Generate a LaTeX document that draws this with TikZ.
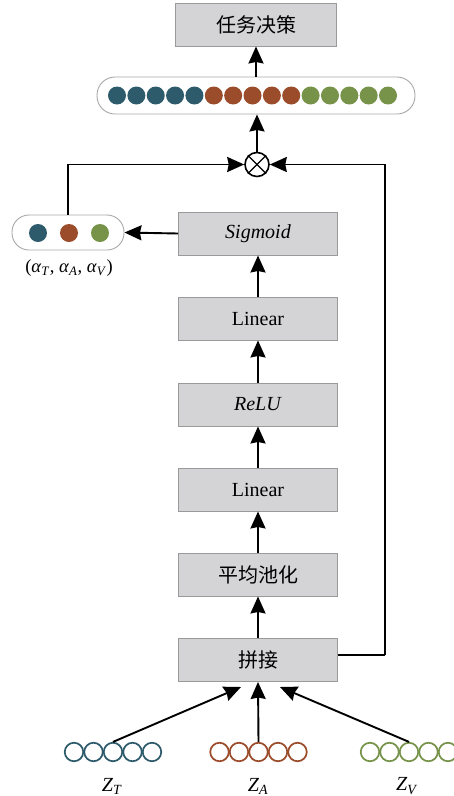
\documentclass[tikz,border=0pt]{standalone}
\usepackage{fontspec}
\setmainfont{Liberation Serif}
\newfontfamily\cjk{Noto Sans CJK SC}
\usetikzlibrary{arrows.meta}
\definecolor{teal1}{HTML}{2E5B6B}
\definecolor{rust1}{HTML}{9B4C2B}
\definecolor{olive1}{HTML}{77934A}
\definecolor{boxfill}{HTML}{D4D4D6}
\definecolor{boxedge}{HTML}{9A9A9A}
\definecolor{capedge}{HTML}{A8A8A8}
\newcommand{\sym}[2]{\textit{#1}\textsubscript{\textit{#2}}}
\begin{document}
\begin{tikzpicture}[x=1pt,y=-1pt,
  layer/.style={draw=boxedge, fill=boxfill, line width=0.9pt, minimum width=159pt,
    minimum height=43pt, inner sep=0pt, font=\fontsize{20}{22}\selectfont},
  capsule/.style={draw=capedge, fill=white, line width=0.9pt, rounded corners=17pt,
    inner sep=0pt},
  dot/.style={circle, inner sep=0pt, minimum size=18pt, fill=#1},
  ring/.style={circle, inner sep=0pt, minimum size=18.5pt, draw=#1, line width=1.7pt},
  arr/.style={line width=1.9pt, -{Stealth[length=17pt,width=15pt,inset=1.5pt]}},
  wire/.style={line width=1.9pt},
  lbl/.style={font=\fontsize{20}{22}\selectfont}]
\useasboundingbox (0,0) rectangle (454,796);

% stacked layers of the fusion block
\node[layer, minimum width=161pt] (task) at (256,24.5) {\cjk 任务决策};
\node[layer] (sig)  at (258,233.5) {\textit{Sigmoid}};
\node[layer] (lin1) at (258,318.5) {Linear};
\node[layer] (relu) at (258,404.5) {\textit{ReLU}};
\node[layer] (lin2) at (258,489.5) {Linear};
\node[layer] (pool) at (258,574.5) {\cjk 平均池化};
\node[layer] (cat)  at (258,660)   {\cjk 拼接};

% fused feature vector
\node[capsule, minimum width=318pt, minimum height=37pt, rounded corners=18pt] (bar) at (256,95.5) {};
\foreach \i in {0,...,4} {
  \node[dot=teal1]  (fa\i) at ({117+19.36*\i},95.5) {};
  \node[dot=rust1]  (fb\i) at ({213.8+19.36*\i},95.5) {};
  \node[dot=olive1] (fc\i) at ({310.6+19.36*\i},95.5) {};
}

% attention weights
\node[capsule, minimum width=112pt, minimum height=35pt] (cap) at (68,232.5) {};
\node[dot=teal1]  (wt) at (38,233) {};
\node[dot=rust1]  (wa) at (69,233) {};
\node[dot=olive1] (wv) at (100,233) {};
\node[font=\fontsize{18.5}{20}\selectfont] (alab) at (69,268)
  {(\sym{α}{T}, \sym{α}{A}, \sym{α}{V})};

% element-wise product
\node[circle, draw, line width=1.6pt, minimum size=24pt, inner sep=0pt] (ot) at (257,164.5) {};
\draw[line width=1.4pt] (ot.north west) -- (ot.south east);
\draw[line width=1.4pt] (ot.north east) -- (ot.south west);

% modality inputs
\foreach \i in {0,...,4} {
  \node[ring=teal1]  (zt\i) at ({74+19.5*\i},752) {};
  \node[ring=rust1]  (za\i) at ({219.5+19.5*\i},752) {};
  \node[ring=olive1] (zv\i) at ({370+19.5*\i},752) {};
}
\node[lbl] (ztl) at (112,786) {\sym{Z}{T}};
\node[lbl] (zal) at (258,786) {\sym{Z}{A}};
\node[lbl] (zvl) at (407,786) {\sym{Z}{V}};

% connectors
\coordinate (inT) at (241,687);
\coordinate (inV) at (280,687);
\draw[arr] (zt2.north) -- (inT);
\draw[arr] (za2.north) -- (cat.south);
\draw[arr] (zv2.north) -- (inV);

\draw[arr] (cat.north) -- (pool.south);
\draw[arr] (pool.north) -- (lin2.south);
\draw[arr] (lin2.north) -- (relu.south);
\draw[arr] (relu.north) -- (lin1.south);
\draw[arr] (lin1.north) -- (sig.south);
\draw[arr] (sig.west) -- (cap.east);

\draw[arr] (cap.north) |- (ot.west);
\coordinate (rt) at (385,655);
\draw[wire] (cat.east |- rt) -- (rt);
\draw[arr] (rt) |- (ot.east);

\draw[arr] (ot.north) -- (ot.north |- bar.south);
\draw[arr] (task.south |- bar.north) -- (task.south);
\end{tikzpicture}
\end{document}
